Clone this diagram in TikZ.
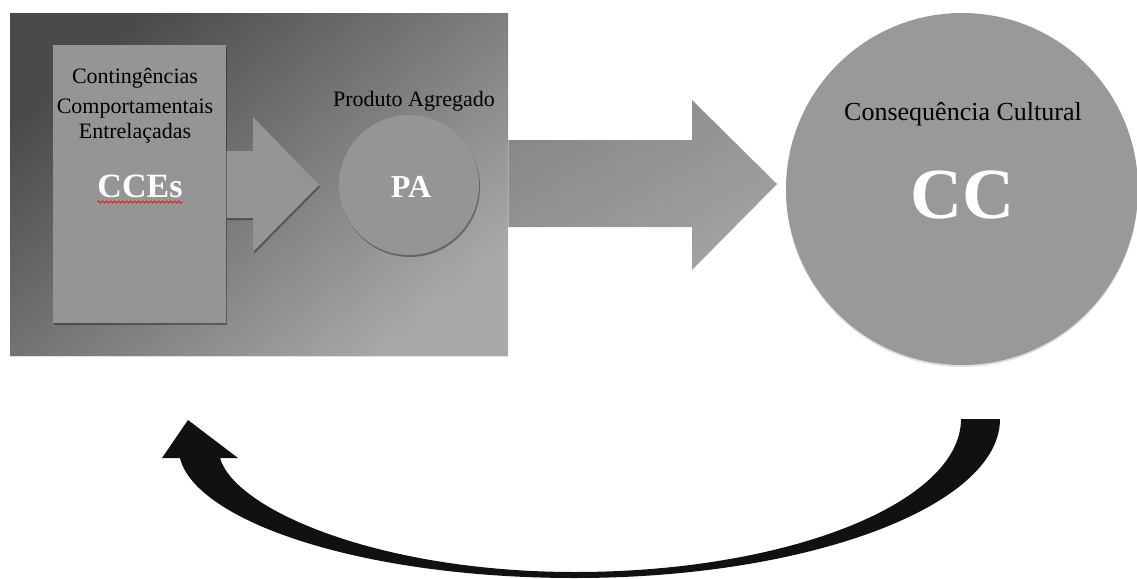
\documentclass[tikz,border=0pt]{standalone}
\usepackage{fontspec}
\setmainfont{Liberation Serif}
\usetikzlibrary{shadows,decorations.pathmorphing}
\definecolor{framedark}{HTML}{4A4A4A}
\definecolor{framelight}{HTML}{A8A8A8}
\definecolor{boxgray}{HTML}{959595}
\definecolor{bigarrowdark}{HTML}{888888}
\definecolor{bigarrowlight}{HTML}{A2A2A2}
\definecolor{ccgray}{HTML}{999999}
\definecolor{loopblack}{HTML}{111111}
\begin{document}
\begin{tikzpicture}[x=1pt,y=-1pt,
  softshadow/.style={drop shadow={shadow xshift=1pt,shadow yshift=-2pt,opacity=0.35,fill=black}},
  faintshadow/.style={drop shadow={shadow xshift=0pt,shadow yshift=-2pt,opacity=0.12,fill=black}},
  lbl/.style={font=\fontsize{22}{27}\selectfont, text=black, inner sep=0pt, anchor=base},
  biglbl/.style={text=white, inner sep=0pt, anchor=base, font=\bfseries}]
\useasboundingbox (0,0) rectangle (1137,578);

% frame
\node[rectangle, draw=none, inner sep=0pt, minimum width=498pt, minimum height=342pt,
      anchor=north west, top color=framedark, bottom color=framelight, shading angle=40,
      faintshadow] (frame) at (10,13) {};

% big arrow
\shade[top color=bigarrowdark, bottom color=bigarrowlight, shading angle=30]
  (frame.east |- 0,140) -- (692,140) -- (692,100) -- (777,184) -- (692,270)
  -- (692,227) -- (frame.east |- 0,227) -- cycle;

% inner box and small arrow
\fill[boxgray, softshadow] (226,151) -- (253,151) -- (253,117) -- (319,185)
  -- (253,252) -- (253,218) -- (226,218) -- cycle;
\node[rectangle, fill=boxgray, inner sep=0pt, minimum width=173pt, minimum height=278pt,
      anchor=north west, softshadow] (cces) at (53,45) {};

% PA circle
\node[circle, fill=boxgray, inner sep=0pt, minimum size=140pt, softshadow] (pa) at (409,185) {};

% CC circle
\node[circle, fill=ccgray, inner sep=0pt, minimum size=352pt, faintshadow] (cc) at (962,189) {};

% texts
\node[lbl] (t1) at (135,84) {Contingências};
\node[lbl] (t2) at (135,113) {Comportamentais};
\node[lbl] (t3) at (135,138) {Entrelaçadas};
\node[biglbl, font=\bfseries\fontsize{34}{34}\selectfont] (ccesl) at (140,197) {CCEs};
\draw[red, line width=0.7pt, decorate, decoration={snake, amplitude=1.1pt, segment length=4pt}]
  ([yshift=-5pt]ccesl.base west) -- ([yshift=-5pt]ccesl.base east);
\node[lbl] (prod) at (414,106) {Produto Agregado};
\node[biglbl, font=\bfseries\fontsize{32}{32}\selectfont] (pal) at (411,197) {PA};
\node[lbl, font=\fontsize{26}{30}\selectfont] (cons) at (963,120) {Consequência Cultural};
\node[biglbl, font=\bfseries\fontsize{72}{72}\selectfont] (ccl) at (962,218) {CC};

% feedback curved arrow
\coordinate (loopend) at (188,420);
\fill[loopblack]
  (1000,419) .. controls (1000,506) and (809,578) .. (575,578)
  .. controls (358,578) and (195,520) .. (180,458)
  -- (162,458) -- (loopend) -- (238,458) -- (220,458)
  .. controls (235,510) and (380,572) .. (575,572)
  .. controls (787,572) and (961,503) .. (961,419) -- cycle;
\end{tikzpicture}
\end{document}
